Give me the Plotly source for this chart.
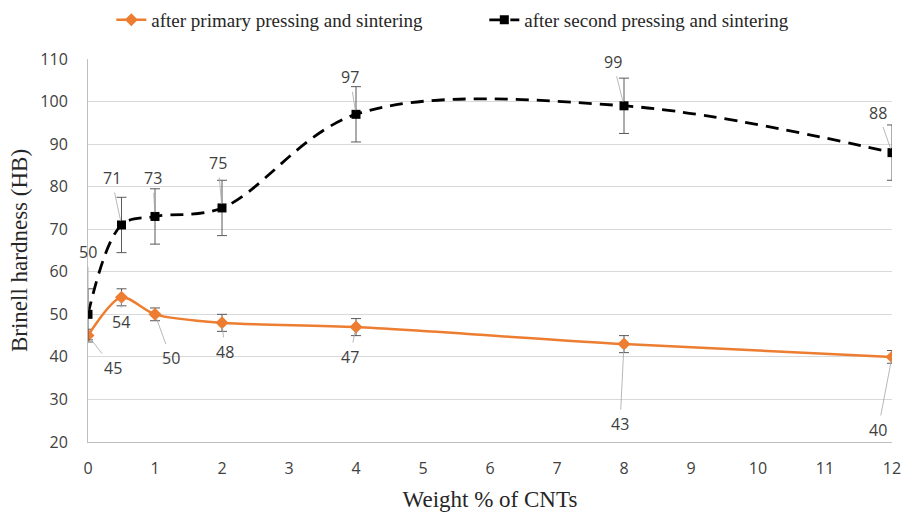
import plotly.graph_objects as go

# CNT content (wt %)
cnt_wt = [0, 0.5, 1, 2, 4, 8, 12]

# Brinell hardness after primary pressing and sintering
hb_primary = [45, 54, 50, 48, 47, 43, 40]
err_primary = [1.5, 2, 1.5, 2, 2, 2, 1.5]

# Brinell hardness after second pressing and sintering
hb_second = [50, 71, 73, 75, 97, 99, 88]
err_second = [6, 6.5, 6.5, 6.5, 6.5, 6.5, 6.5]

# label offsets (pixels) for the value labels
off_primary = [(25, 32), (-1, 25), (16, 44), (3, 29), (-6, 30), (-4, 80), (-14, 73)]
off_second = [(0, -62), (-10, -47), (-2, -38), (-4, -45), (-6, -37), (-11, -44), (-14, -40)]

orange = "#ED7D31"
err_color = "#595959"
tick_font = dict(family="Open Sans, Liberation Sans, sans-serif", size=16, color="#404040")
title_font = dict(family="Liberation Serif, serif", size=23, color="#262626")

fig = go.Figure()

fig.add_trace(go.Scatter(
    x=cnt_wt, y=hb_primary, name="after primary pressing and sintering",
    mode="lines+markers",
    line=dict(color=orange, width=2.5, shape="spline", smoothing=0.8),
    marker=dict(symbol="diamond", size=10, color=orange),
    error_y=dict(type="data", array=err_primary, color=err_color, thickness=1, width=5),
))

fig.add_trace(go.Scatter(
    x=cnt_wt, y=hb_second, name="after second pressing and sintering",
    mode="lines+markers",
    line=dict(color="black", width=2.8, dash="13px,8px", shape="spline", smoothing=1),
    marker=dict(symbol="square", size=9, color="black"),
    error_y=dict(type="data", array=err_second, color=err_color, thickness=1, width=5),
))

annotations = []
for xs, ys, offs in ((cnt_wt, hb_primary, off_primary), (cnt_wt, hb_second, off_second)):
    for xv, yv, (dx, dy) in zip(xs, ys, offs):
        annotations.append(dict(
            x=xv, y=yv, xref="x", yref="y", text=str(yv),
            showarrow=True, ax=dx, ay=dy, arrowhead=0, arrowwidth=0.8,
            arrowcolor="#a6a6a6", standoff=4, startstandoff=2,
            font=dict(family="Open Sans, Liberation Sans, sans-serif", size=16, color="#404040"),
        ))

fig.update_layout(
    width=904, height=514,
    margin=dict(l=88, r=12, t=59, b=72, autoexpand=False),
    paper_bgcolor="white", plot_bgcolor="white",
    showlegend=True,
    legend=dict(
        orientation="h", x=0.029, y=1.102, xanchor="left", yanchor="middle",
        entrywidth=328, entrywidthmode="pixels",
        font=dict(family="Liberation Serif, serif", size=19, color="#262626"),
    ),
    annotations=annotations,
    xaxis=dict(
        range=[0, 12], tickmode="linear", tick0=0, dtick=1,
        showgrid=False, zeroline=False, automargin=False,
        showline=True, linecolor="#bfbfbf", linewidth=1,
        ticks="", ticklen=0, ticklabelstandoff=12,
        tickfont=tick_font,
        title=dict(text="Weight % of CNTs", font=title_font, standoff=12),
    ),
    yaxis=dict(
        range=[20, 110], tickmode="linear", tick0=20, dtick=10,
        showgrid=True, gridcolor="#d9d9d9", gridwidth=1, zeroline=False, automargin=False,
        showline=True, linecolor="#bfbfbf", linewidth=1,
        ticks="", ticklen=0, ticklabelstandoff=16,
        tickfont=tick_font,
        title=dict(text="Brinell hardness (HB)", font=title_font, standoff=6),
    ),
)

fig.write_html("out.html")
